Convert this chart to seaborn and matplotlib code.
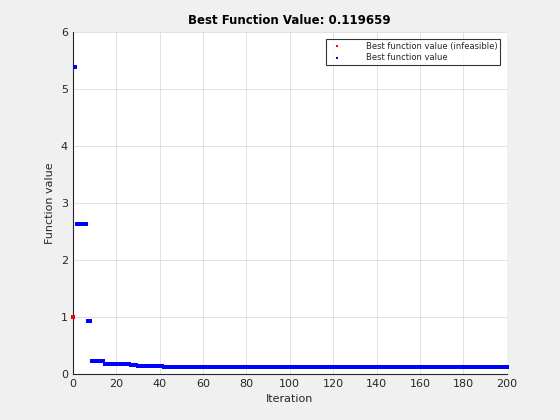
import numpy as np
import pandas as pd
import matplotlib.pyplot as plt
import seaborn as sns

sns.set_style("white")
plt.rcParams['font.family'] = ['DejaVu Sans']

# best feasible value as runs: first iteration, last iteration, value
run_start = [1, 2, 7, 9, 15, 27, 30, 42]
run_end = [1, 6, 8, 14, 26, 29, 41, 200]
run_value = [5.38, 2.626, 0.925, 0.216, 0.170, 0.146, 0.135, 0.119659]

# infeasible best value
infeas_iter = [0]
infeas_value = [1.0]

iters = []
vals = []
for a, b, v in zip(run_start, run_end, run_value):
    for i in range(a, b + 1):
        iters.append(i)
        vals.append(v)
best = pd.DataFrame({"Iteration": iters, "Function value": vals})
infeas = pd.DataFrame({"Iteration": infeas_iter, "Function value": infeas_value})

fig = plt.figure(figsize=(5.6, 4.2), dpi=100, facecolor="#f0f0f0")
ax = fig.add_axes([0.13, 0.11, 0.775, 0.814])
ax.set_facecolor("white")

sns.scatterplot(data=infeas, x="Iteration", y="Function value", ax=ax, color="red",
                marker="s", s=5, linewidth=0, label="Best function value (infeasible)",
                zorder=3, clip_on=False)
sns.scatterplot(data=best, x="Iteration", y="Function value", ax=ax, color="blue",
                marker="s", s=5, linewidth=0, label="Best function value", zorder=3,
                clip_on=False)

ax.set_xlim(0, 200)
ax.set_ylim(0, 6)
ax.set_xticks(range(0, 201, 20))
ax.set_yticks(range(0, 7))
ax.grid(True, color="#dcdcdc", linewidth=0.6)
ax.set_axisbelow(True)
for s in ["top", "right"]:
    ax.spines[s].set_visible(False)
for s in ["left", "bottom"]:
    ax.spines[s].set_color("#262626")
    ax.spines[s].set_linewidth(0.8)
ax.tick_params(direction="in", length=3.5, width=0.8, colors="#262626", labelsize=8)
ax.set_xlabel("Iteration", fontsize=8, color="#262626")
ax.set_ylabel("Function value", fontsize=8, color="#262626")
ax.set_title("Best Function Value: 0.119659", fontsize=8.5, fontweight="bold", color="black")

leg = ax.legend(loc="upper right", fontsize=6, frameon=True, fancybox=False,
                edgecolor="black", borderaxespad=0.8, handletextpad=2.4,
                markerscale=0.7, borderpad=0.35, labelspacing=0.3)
leg.get_frame().set_linewidth(0.8)

fig.savefig("out.png", dpi=100, facecolor=fig.get_facecolor())
